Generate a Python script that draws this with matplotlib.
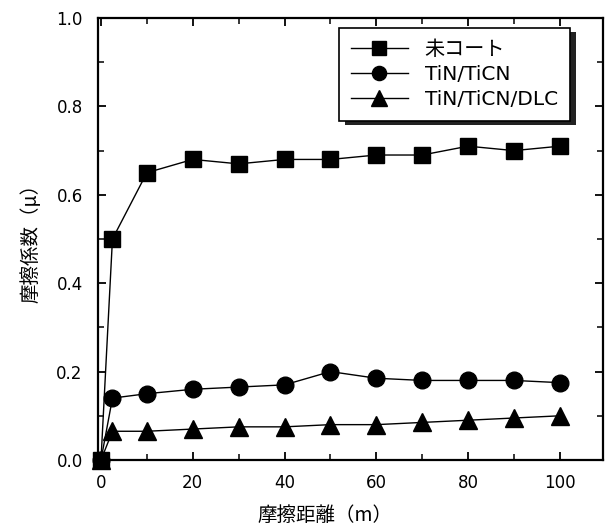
import matplotlib
matplotlib.use("Agg")
import matplotlib.pyplot as plt
from matplotlib.ticker import MultipleLocator, FormatStrFormatter
from matplotlib.patches import Rectangle

plt.rcParams['font.family'] = ['DejaVu Sans', 'Noto Sans CJK JP']

distance = [0, 2.5, 10, 20, 30, 40, 50, 60, 70, 80, 90, 100]
uncoated = [0.0, 0.50, 0.65, 0.68, 0.67, 0.68, 0.68, 0.69, 0.69, 0.71, 0.70, 0.71]
tin_ticn = [0.0, 0.14, 0.15, 0.16, 0.165, 0.17, 0.20, 0.185, 0.18, 0.18, 0.18, 0.175]
tin_ticn_dlc = [0.0, 0.065, 0.065, 0.07, 0.075, 0.075, 0.08, 0.08, 0.085, 0.09, 0.095, 0.10]
labels = ['未コート', 'TiN/TiCN', 'TiN/TiCN/DLC']

W, H = 610, 526
fig = plt.figure(figsize=(W/100, H/100), dpi=100)
L, R, T, B = 98, 603, 18, 460
ax = fig.add_axes([L/W, 1-B/H, (R-L)/W, (B-T)/H])

ax.plot(distance, uncoated, '-s', color='black', lw=1, ms=11.5, label=labels[0], clip_on=False)
ax.plot(distance, tin_ticn, '-o', color='black', lw=1, ms=12, label=labels[1], clip_on=False)
ax.plot(distance, tin_ticn_dlc, '-^', color='black', lw=1, ms=13, label=labels[2], clip_on=False)

ax.set_xlim(-0.65, 109.4)
ax.set_ylim(0, 1.0)
ax.xaxis.set_major_locator(MultipleLocator(20))
ax.xaxis.set_minor_locator(MultipleLocator(10))
ax.yaxis.set_major_locator(MultipleLocator(0.2))
ax.yaxis.set_minor_locator(MultipleLocator(0.1))
ax.yaxis.set_major_formatter(FormatStrFormatter('%.1f'))
ax.tick_params(which='both', direction='in', top=True, right=True, labelsize=12)
ax.tick_params(axis='y', which='major', pad=11)
ax.tick_params(axis='x', which='major', pad=10)
ax.tick_params(which='major', length=6, width=1.3)
ax.tick_params(which='minor', length=4, width=1.1)
for s in ax.spines.values():
    s.set_linewidth(1.6)

fig.text(325/W, 1-515/H, '摩擦距離（m）', fontsize=14, ha='center', va='center',
         family=['Noto Sans CJK JP'])
fig.text(31/W, 1-238/H, '摩擦係数（μ）', fontsize=14, ha='center', va='center',
         rotation=90, family=['Noto Sans CJK JP'])

leg = ax.legend(loc='upper right', bbox_to_anchor=((570-L)/(R-L), (B-28)/(B-T)),
                borderaxespad=0, fontsize=14.5, frameon=True, fancybox=False,
                edgecolor='black', handlelength=2.8, handletextpad=0.85,
                borderpad=0.6, labelspacing=0.3, markerscale=0.85)
leg.get_frame().set_linewidth(1.2)
leg.get_frame().set_alpha(1)

fig.canvas.draw()
bb = leg.get_window_extent()
shadow = Rectangle((bb.x0 + 6, bb.y0 - 4), bb.width, bb.height, transform=None,
                   facecolor='#222222', edgecolor='none', zorder=4.9, clip_on=False)
ax.add_patch(shadow)

fig.savefig('out.png', dpi=100)
